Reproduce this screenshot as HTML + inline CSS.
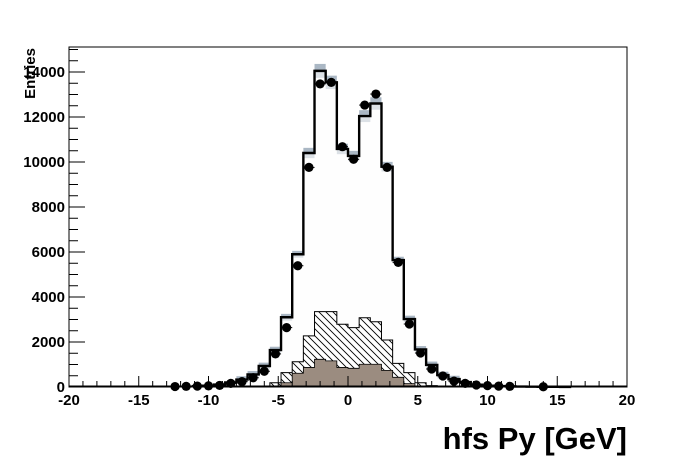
<!DOCTYPE html>
<html><head><meta charset="utf-8"><style>
html,body{margin:0;padding:0;background:#fff;}
svg{display:block;font-family:"Liberation Sans",Arial,sans-serif;}
</style></head><body>
<svg id="s" width="696" height="472" viewBox="0 0 696 472" xmlns="http://www.w3.org/2000/svg">
<defs>
<pattern id="h" patternUnits="userSpaceOnUse" width="7" height="7">
<path d="M-1,-1 L8,8 M-8,-1 L1,8 M6,-1 L15,8" stroke="#000" stroke-width="0.9"/>
</pattern>
</defs>
<rect x="0" y="0" width="696" height="472" fill="#fff"/>
<g id="plot"></g>
<rect x="69" y="47" width="558" height="340" fill="none" stroke="#000" stroke-width="1"/>
<g id="ticks" stroke="#000" stroke-width="1"></g>
<g font-size="15" font-weight="bold" text-anchor="end" fill="#000">
<text x="65" y="392">0</text>
<text x="65" y="347">2000</text>
<text x="65" y="302">4000</text>
<text x="65" y="257">6000</text>
<text x="65" y="212">8000</text>
<text x="65" y="167">10000</text>
<text x="65" y="122">12000</text>
<text x="65" y="77">14000</text>
</g>
<g font-size="15" font-weight="bold" text-anchor="middle" fill="#000">
<text x="69" y="405">-20</text>
<text x="138.8" y="405">-15</text>
<text x="208.5" y="405">-10</text>
<text x="278.3" y="405">-5</text>
<text x="348" y="405">0</text>
<text x="417.8" y="405">5</text>
<text x="487.5" y="405">10</text>
<text x="557.3" y="405">15</text>
<text x="627" y="405">20</text>
</g>
<text x="627" y="449" font-size="31" font-weight="bold" text-anchor="end">hfs Py [GeV]</text>
<text transform="translate(35,48) rotate(-90)" font-size="15" font-weight="bold" text-anchor="end">Entries</text>
</svg>
<script>
var NS="http://www.w3.org/2000/svg";
function px(x){return 69+(x+20)*13.95;}
function py(v){return 387-v*0.0225;}
function el(p,t,a){var e=document.createElementNS(NS,t);for(var k in a)e.setAttribute(k,a[k]);p.appendChild(e);return e;}
var plot=document.getElementById("plot");
var mcStart=-11.2;
var mc=[40,60,110,200,330,560,933,1640,3100,5900,10400,14050,13540,10580,10270,12040,12600,9790,5640,3020,1670,980,530,350,220,100,60,40,30,20,15,10,8,5];
var hat=[0,0,0,0,0,0,30,190,640,1120,2270,3350,3350,2790,2640,3080,2900,2090,1050,640,190,60,20];
var brn=[0,0,0,0,0,0,0,40,190,610,870,1230,1160,870,830,1010,1010,740,430,150,40];
function stepPath(arr){
  var d="M"+px(mcStart)+","+py(0);
  for(var i=0;i<arr.length;i++){var x0=px(mcStart+i*0.8),x1=px(mcStart+(i+1)*0.8);d+=" L"+x0+","+py(arr[i])+" L"+x1+","+py(arr[i]);}
  d+=" L"+px(mcStart+arr.length*0.8)+","+py(0)+" Z";return d;}
for(var i=0;i<mc.length;i++){if(mc[i]<300)continue;var e=Math.max(150,mc[i]*0.022);
 el(plot,"rect",{x:px(mcStart+i*0.8),y:py(mc[i]+e),width:11.16,height:py(mc[i]-e)-py(mc[i]+e),fill:"#aab7c4"});}
el(plot,"path",{d:stepPath(mc),fill:"#fdfdfd","fill-opacity":"0.6",stroke:"none"});
el(plot,"path",{d:stepPath(hat),fill:"#fff",stroke:"none"});
el(plot,"path",{d:stepPath(hat),fill:"url(#h)",stroke:"#000","stroke-width":"1"});
el(plot,"path",{d:stepPath(brn),fill:"#9b8c80",stroke:"#000","stroke-width":"0.8"});
var d="";for(var i=0;i<mc.length;i++){var x0=px(mcStart+i*0.8),x1=px(mcStart+(i+1)*0.8);d+=(i?" L":"M")+x0+","+py(mc[i])+" L"+x1+","+py(mc[i]);}
el(plot,"path",{d:d,fill:"none",stroke:"#000","stroke-width":"2.4"});
el(plot,"line",{x1:69,y1:386.5,x2:627,y2:386.5,stroke:"#000","stroke-width":"2"});
var data=[[-12.4,20],[-11.6,30],[-10.8,40],[-10.0,50],[-9.2,70],[-8.4,160],[-7.6,240],[-6.8,410],[-6.0,700],[-5.2,1470],[-4.4,2640],[-3.6,5390],[-2.8,9760],[-2.0,13470],[-1.2,13540],[-0.4,10680],[0.4,10120],[1.2,12530],[2.0,13020],[2.8,9760],[3.6,5540],[4.4,2800],[5.2,1510],[6.0,800],[6.8,490],[7.6,260],[8.4,160],[9.2,90],[10.0,60],[10.8,40],[11.6,30],[14.0,10]];
data.forEach(function(p){var x=px(p[0]),y=py(p[1]);
 el(plot,"line",{x1:x-5.6,y1:y,x2:x+5.6,y2:y,stroke:"#000","stroke-width":"1"});
 el(plot,"circle",{cx:x,cy:y,r:4.6,fill:"#000"});});
var t=document.getElementById("ticks");
for(var v=-20;v<=20;v++){var x=px(v),L=(v%5==0)?11:6;el(t,"line",{x1:x,y1:387,x2:x,y2:387-L});}
for(var v=0;v<=15000;v+=500){var y=py(v);if(y<47)break;var L=(v%2000==0)?16:9;el(t,"line",{x1:69,y1:y,x2:69+L,y2:y});}
</script>
</body></html>
